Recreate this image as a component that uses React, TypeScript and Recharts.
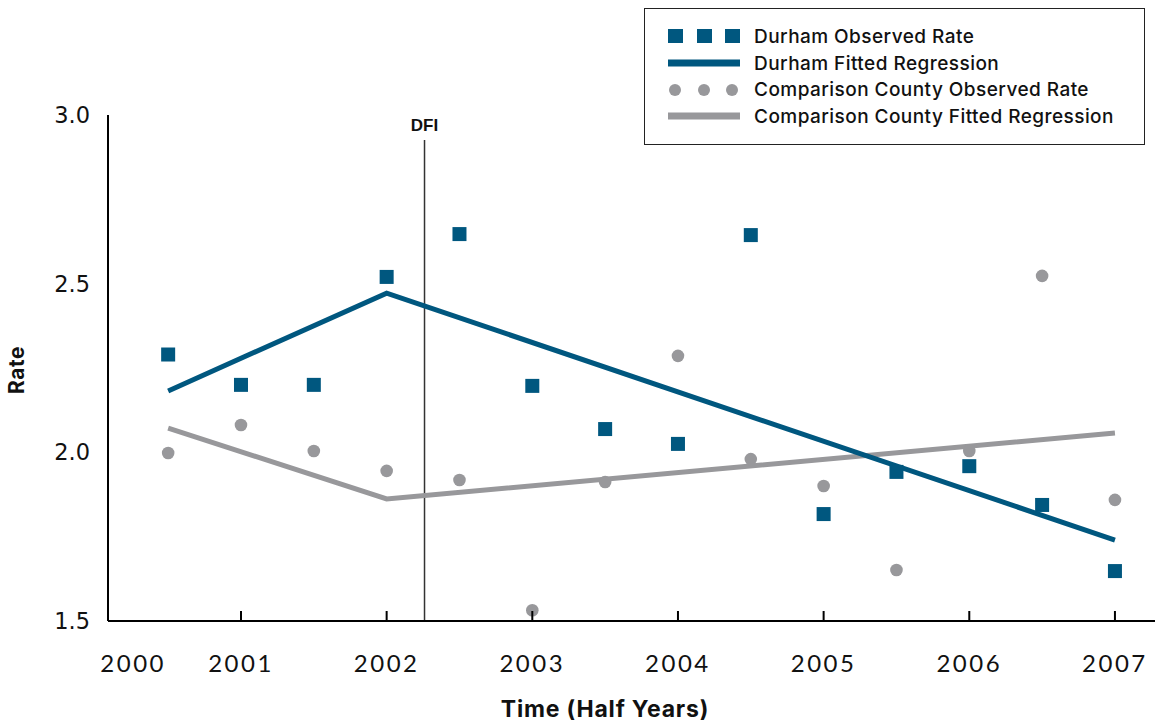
import React from 'react';
import { ComposedChart, Line, Scatter, XAxis, YAxis, ReferenceLine } from 'recharts';

// half-year observation times
const halfYears = [2000.5, 2001, 2001.5, 2002, 2002.5, 2003, 2003.5, 2004, 2004.5, 2005, 2005.5, 2006, 2006.5, 2007];
const durhamObserved = [2.29, 2.2, 2.2, 2.52, 2.647, 2.197, 2.069, 2.025, 2.644, 1.817, 1.942, 1.959, 1.844, 1.648];
const comparisonObserved = [1.998, 2.081, 2.004, 1.945, 1.918, 1.532, 1.912, 2.286, 1.98, 1.9, 1.651, 2.004, 2.523, 1.859];

// fitted regression break points
const fitYears = [2000.5, 2002, 2007];
const durhamFitted = [2.182, 2.472, 1.74];
const comparisonFitted = [2.072, 1.862, 2.057];

const xTicks = [2000.26, 2001, 2002, 2003, 2004, 2005, 2006, 2007];
const xTickLabels = ['2000', '2001', '2002', '2003', '2004', '2005', '2006', '2007'];
const yTicks = [1.5, 2.0, 2.5, 3.0];
const dfiTime = 2002.26;

const BLUE = '#00577f';
const GRAY = '#98989b';

const toPoints = (ts: number[], vs: number[]) => ts.map((t, i) => ({ t, v: vs[i] }));

const durhamPoints = toPoints(halfYears, durhamObserved);
const comparisonPoints = toPoints(halfYears, comparisonObserved);
const durhamFit = toPoints(fitYears, durhamFitted);
const comparisonFit = toPoints(fitYears, comparisonFitted);

const SquareMark = (props: any) => (
  <rect x={props.cx - 7} y={props.cy - 7} width={14} height={14} fill={BLUE} />
);

const CircleMark = (props: any) => <circle cx={props.cx} cy={props.cy} r={6.3} fill={GRAY} />;

const YearTick = (props: any) => {
  const { x, y, index } = props;
  return (
    <g>
      {index > 0 && <line x1={x} x2={x} y1={y - 10} y2={y} stroke="#000" strokeWidth={2} />}
      <text
        x={x}
        y={y + 51}
        textAnchor="middle"
        fontFamily="Lato, sans-serif"
        fontSize={24}
        letterSpacing={2.5}
        fill="#111"
      >
        {xTickLabels[index]}
      </text>
    </g>
  );
};

const legendItems = [
  { label: 'Durham Observed Rate', kind: 'square' },
  { label: 'Durham Fitted Regression', kind: 'blueLine' },
  { label: 'Comparison County Observed Rate', kind: 'circle' },
  { label: 'Comparison County Fitted Regression', kind: 'grayLine' },
];

const LegendIcon = ({ kind }: { kind: string }) => (
  <svg width={72} height={16}>
    {kind === 'square' && [0, 29, 57].map((dx) => <rect key={dx} x={dx} y={1} width={15} height={14} fill={BLUE} />)}
    {kind === 'circle' && [7, 36, 64].map((cx) => <circle key={cx} cx={cx} cy={8} r={6} fill={GRAY} />)}
    {kind === 'blueLine' && <rect x={0} y={4.5} width={72} height={7} fill={BLUE} />}
    {kind === 'grayLine' && <rect x={0} y={4.5} width={72} height={7} fill={GRAY} />}
  </svg>
);

const App: React.FC = () => {
  return (
    <div style={{ position: 'absolute', left: 0, top: 0, width: 1163, height: 723, background: '#fff' }}>
      <ComposedChart width={1163} height={723} margin={{ top: 115, right: 8, left: 48, bottom: 42 }}>
        <XAxis
          dataKey="t"
          type="number"
          domain={[2000.087, 2007.275]}
          allowDataOverflow
          ticks={xTicks}
          interval={0}
          tick={<YearTick />}
          tickLine={false}
          tickSize={0}
          tickMargin={0}
          axisLine={{ stroke: '#000', strokeWidth: 2 }}
          height={60}
          label={() => (
            <text
              x={605}
              y={717}
              textAnchor="middle"
              fontFamily="Inter, sans-serif"
              fontWeight={700}
              fontSize={23}
              letterSpacing={0.8}
              fill="#111"
            >
              Time (Half Years)
            </text>
          )}
        />
        <YAxis
          type="number"
          domain={[1.5, 3.0]}
          ticks={yTicks}
          tickFormatter={(v: number) => v.toFixed(1)}
          tickLine={false}
          tickSize={0}
          tickMargin={18}
          axisLine={{ stroke: '#000', strokeWidth: 2 }}
          tick={{ fontFamily: 'DejaVu Sans, sans-serif', fontSize: 22.5, fill: '#111' }}
          width={60}
          label={() => (
            <text
              transform="translate(24,370) rotate(-90)"
              textAnchor="middle"
              fontFamily="Inter, sans-serif"
              fontWeight={700}
              fontSize={21}
              letterSpacing={0.5}
              fill="#111"
            >
              Rate
            </text>
          )}
        />
        <ReferenceLine
          segment={[
            { x: dfiTime, y: 2.926 },
            { x: dfiTime, y: 1.5 },
          ]}
          stroke="#333"
          strokeWidth={1.5}
          label={(p: any) => (
            <text
              x={p.viewBox.x}
              y={p.viewBox.y - 9}
              textAnchor="middle"
              fontFamily="Liberation Sans, Arial, sans-serif"
              fontWeight={700}
              fontSize={17}
              fill="#111"
            >
              DFI
            </text>
          )}
        />
        <Line data={comparisonFit} dataKey="v" type="linear" stroke={GRAY} strokeWidth={5} dot={false} isAnimationActive={false} />
        <Line data={durhamFit} dataKey="v" type="linear" stroke={BLUE} strokeWidth={5} dot={false} isAnimationActive={false} />
        <Scatter data={comparisonPoints} dataKey="v" shape={CircleMark} isAnimationActive={false} />
        <Scatter data={durhamPoints} dataKey="v" shape={SquareMark} isAnimationActive={false} />
      </ComposedChart>

      <div
        style={{
          position: 'absolute',
          left: 644,
          top: 8,
          width: 501,
          height: 137,
          boxSizing: 'border-box',
          border: '1.5px solid #222',
          background: '#fff',
          paddingTop: 14,
          paddingLeft: 23,
        }}
      >
        {legendItems.map((item) => (
          <div key={item.label} style={{ display: 'flex', alignItems: 'center', height: 26.7 }}>
            <LegendIcon kind={item.kind} />
            <span
              style={{
                marginLeft: 14,
                fontFamily: 'Inter, sans-serif',
                fontWeight: 500,
                fontSize: 19,
                letterSpacing: 0.45,
                color: '#111',
                whiteSpace: 'nowrap',
              }}
            >
              {item.label}
            </span>
          </div>
        ))}
      </div>
    </div>
  );
};

export default App;
